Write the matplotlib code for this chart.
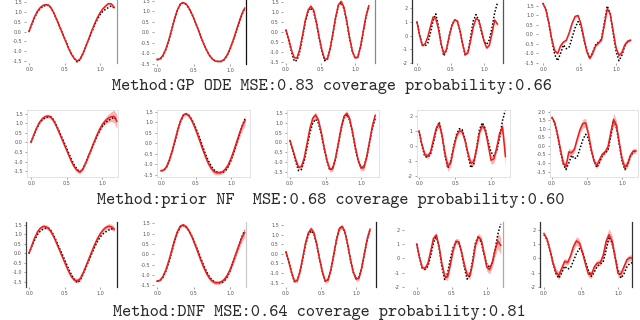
import matplotlib
matplotlib.use("Agg")
import matplotlib.pyplot as plt

# common x grid of the five toy series
x = [0.00, 0.04, 0.08, 0.12, 0.16, 0.20, 0.24, 0.28, 0.32, 0.36, 0.40, 0.44, 0.48, 0.52, 0.56, 0.60,
     0.64, 0.68, 0.72, 0.76, 0.80, 0.84, 0.88, 0.92, 0.96, 1.00, 1.04, 1.08, 1.12, 1.16, 1.20]

# observed data (black dots), one per column
truth_c1 = [0.00, 0.38, 0.72, 1.00, 1.18, 1.28, 1.33, 1.32, 1.15, 0.85, 0.52, 0.18, -0.15, -0.50, -0.85, -1.15,
            -1.38, -1.55, -1.42, -1.10, -0.75, -0.40, -0.05, 0.30, 0.60, 0.85, 1.02, 1.13, 1.22, 1.30, 1.20]
truth_c2 = [-1.30, -1.27, -1.12, -0.82, -0.40, 0.10, 0.62, 1.05, 1.33, 1.40, 1.32, 1.12, 0.85, 0.52, 0.17, -0.20,
            -0.55, -0.85, -1.10, -1.27, -1.36, -1.38, -1.38, -1.30, -1.10, -0.80, -0.42, 0.00, 0.42, 0.82, 1.15]
truth_c3 = [0.10, -0.42, -0.98, -1.45, -1.40, -0.95, -0.25, 0.50, 1.00, 1.20, 1.00, 0.45, -0.30, -0.95, -1.42, -1.35,
            -0.85, -0.10, 0.70, 1.30, 1.45, 1.15, 0.50, -0.30, -0.95, -1.28, -1.25, -0.75, 0.00, 0.75, 1.25]
truth_c4 = [1.00, 0.05, -0.70, -0.75, -0.55, 0.20, 1.10, 1.60, 0.70, -0.60, -1.48, -1.05, -0.05, 0.75, 1.15, 1.10,
            0.40, -0.60, -1.45, -1.20, -0.10, 1.10, 1.55, 1.15, 0.30, -0.40, -0.65, -0.30, 0.60, 1.70, 2.40]
truth_c5 = [1.65, 1.30, 0.60, -0.30, -1.05, -1.38, -1.00, -0.55, -0.75, -0.65, -0.15, 0.35, 0.68, 0.45, -0.25, -0.85,
            -1.26, -0.95, -0.55, -0.40, -0.25, 0.60, 1.50, 1.10, 0.10, -0.85, -1.38, -1.10, -0.60, -0.35, -0.30]

# GP ODE (row 1)
gp_c1 = [0.00, 0.40, 0.76, 1.04, 1.22, 1.33, 1.37, 1.33, 1.15, 0.86, 0.52, 0.17, -0.18, -0.53, -0.88, -1.17,
         -1.38, -1.50, -1.40, -1.12, -0.76, -0.38, 0.00, 0.36, 0.68, 0.95, 1.15, 1.30, 1.42, 1.40, 1.22]
gp_c2 = [-1.28, -1.26, -1.10, -0.80, -0.38, 0.12, 0.64, 1.07, 1.35, 1.42, 1.34, 1.14, 0.86, 0.53, 0.17, -0.20,
         -0.55, -0.85, -1.10, -1.27, -1.36, -1.38, -1.37, -1.28, -1.08, -0.78, -0.40, 0.02, 0.45, 0.85, 1.15]
gp_c3 = [0.10, -0.38, -0.90, -1.28, -1.28, -0.85, -0.15, 0.58, 1.08, 1.28, 1.08, 0.50, -0.25, -0.90, -1.35, -1.32,
         -0.80, -0.05, 0.75, 1.35, 1.52, 1.22, 0.55, -0.25, -0.92, -1.28, -1.25, -0.72, 0.05, 0.80, 1.30]
gp_c4 = [1.02, 0.00, -0.72, -0.60, -0.10, 0.65, 1.38, 1.25, 0.50, -0.60, -1.35, -1.00, -0.05, 0.75, 1.15, 1.10,
         0.40, -0.60, -1.38, -1.25, -0.35, 0.65, 1.25, 1.15, 0.45, -0.40, -0.90, -0.70, 0.20, 1.15, 0.85]
gp_c5 = [1.63, 1.30, 0.60, -0.25, -0.85, -1.00, -0.60, -0.40, -0.30, 0.10, 0.60, 0.95, 1.00, 0.55, -0.20, -0.90,
         -1.26, -1.00, -0.60, -0.45, -0.30, 0.50, 1.35, 1.10, 0.20, -0.70, -1.10, -0.95, -0.55, -0.35, -0.30]
gp_band_c1 = [0.02, 0.03, 0.03, 0.03, 0.03, 0.03, 0.03, 0.03, 0.03, 0.03, 0.03, 0.03, 0.03, 0.03, 0.03, 0.03,
              0.03, 0.03, 0.03, 0.03, 0.03, 0.03, 0.03, 0.03, 0.03, 0.03, 0.04, 0.04, 0.05, 0.05, 0.06]
gp_band_c2 = [0.02, 0.03, 0.03, 0.03, 0.03, 0.03, 0.03, 0.03, 0.03, 0.03, 0.03, 0.03, 0.03, 0.03, 0.03, 0.03,
              0.03, 0.03, 0.03, 0.03, 0.03, 0.03, 0.03, 0.03, 0.03, 0.03, 0.04, 0.04, 0.05, 0.05, 0.06]
gp_band_c3 = [0.02, 0.03, 0.03, 0.04, 0.04, 0.04, 0.04, 0.04, 0.04, 0.04, 0.04, 0.04, 0.04, 0.04, 0.04, 0.04,
              0.04, 0.04, 0.04, 0.04, 0.04, 0.04, 0.04, 0.04, 0.04, 0.04, 0.04, 0.04, 0.05, 0.05, 0.06]
gp_band_c4 = [0.02, 0.04, 0.05, 0.05, 0.05, 0.05, 0.05, 0.05, 0.05, 0.05, 0.05, 0.05, 0.05, 0.05, 0.05, 0.05,
              0.05, 0.05, 0.05, 0.05, 0.05, 0.05, 0.05, 0.05, 0.05, 0.05, 0.06, 0.06, 0.07, 0.08, 0.10]
gp_band_c5 = [0.02, 0.04, 0.05, 0.06, 0.06, 0.06, 0.06, 0.06, 0.06, 0.06, 0.06, 0.06, 0.06, 0.06, 0.06, 0.06,
              0.06, 0.06, 0.06, 0.06, 0.06, 0.06, 0.07, 0.07, 0.07, 0.07, 0.07, 0.07, 0.07, 0.07, 0.07]

# prior NF (row 2)
nf_c1 = [0.00, 0.40, 0.76, 1.05, 1.24, 1.34, 1.37, 1.30, 1.10, 0.80, 0.45, 0.10, -0.25, -0.60, -0.95, -1.25,
         -1.45, -1.55, -1.42, -1.12, -0.75, -0.38, 0.00, 0.36, 0.68, 0.94, 1.12, 1.25, 1.33, 1.35, 1.10]
nf_c2 = [-1.30, -1.27, -1.10, -0.78, -0.35, 0.15, 0.66, 1.08, 1.35, 1.40, 1.30, 1.08, 0.78, 0.43, 0.06, -0.32,
         -0.67, -0.97, -1.20, -1.35, -1.40, -1.40, -1.35, -1.22, -1.02, -0.72, -0.35, 0.05, 0.45, 0.82, 1.08]
nf_c3 = [0.10, -0.38, -0.88, -1.28, -1.25, -0.80, -0.05, 0.72, 1.25, 1.42, 1.15, 0.52, -0.25, -0.92, -1.38, -1.35,
         -0.82, -0.05, 0.75, 1.35, 1.50, 1.22, 0.55, -0.25, -0.92, -1.32, -1.30, -0.75, 0.05, 0.85, 1.40]
nf_c4 = [1.00, 0.10, -0.55, -0.68, -0.40, 0.40, 1.20, 1.48, 0.70, -0.50, -1.38, -1.10, -0.15, 0.65, 1.02, 0.95,
         0.35, -0.50, -1.15, -1.05, -0.20, 0.90, 1.38, 1.05, 0.10, -0.95, -0.85, -0.10, 0.85, 1.25, -0.70]
nf_c5 = [1.67, 1.35, 0.65, -0.20, -1.00, -1.20, -0.35, -0.40, -0.20, 0.40, 0.95, 1.30, 1.35, 0.70, -0.20, -0.90,
         -1.15, -0.80, -0.48, -0.35, -0.05, 0.80, 1.55, 1.20, 0.20, -0.75, -1.25, -1.05, -0.55, -0.30, -0.30]
nf_band_c1 = [0.03, 0.05, 0.07, 0.08, 0.09, 0.10, 0.10, 0.10, 0.10, 0.10, 0.10, 0.10, 0.10, 0.10, 0.10, 0.10,
              0.10, 0.10, 0.10, 0.10, 0.10, 0.10, 0.10, 0.11, 0.12, 0.15, 0.18, 0.22, 0.26, 0.32, 0.38]
nf_band_c2 = [0.03, 0.04, 0.06, 0.08, 0.09, 0.10, 0.10, 0.09, 0.08, 0.08, 0.09, 0.11, 0.13, 0.15, 0.16, 0.16,
              0.15, 0.14, 0.13, 0.12, 0.10, 0.09, 0.09, 0.10, 0.12, 0.14, 0.16, 0.18, 0.20, 0.22, 0.24]
nf_band_c3 = [0.04, 0.08, 0.10, 0.12, 0.12, 0.12, 0.13, 0.14, 0.15, 0.15, 0.14, 0.13, 0.13, 0.13, 0.14, 0.14,
              0.13, 0.13, 0.13, 0.14, 0.15, 0.14, 0.13, 0.13, 0.13, 0.14, 0.14, 0.13, 0.13, 0.14, 0.15]
nf_band_c4 = [0.05, 0.10, 0.15, 0.18, 0.18, 0.18, 0.20, 0.22, 0.22, 0.25, 0.32, 0.27, 0.20, 0.17, 0.17, 0.17,
              0.18, 0.20, 0.25, 0.25, 0.22, 0.20, 0.20, 0.22, 0.25, 0.28, 0.28, 0.25, 0.25, 0.35, 0.65]
nf_band_c5 = [0.05, 0.08, 0.12, 0.15, 0.18, 0.24, 0.22, 0.17, 0.17, 0.18, 0.22, 0.26, 0.26, 0.22, 0.18, 0.17,
              0.20, 0.20, 0.16, 0.16, 0.18, 0.26, 0.36, 0.30, 0.22, 0.20, 0.22, 0.20, 0.16, 0.16, 0.16]

# DNF (row 3)
dnf_c1 = [0.00, 0.42, 0.82, 1.14, 1.33, 1.42, 1.40, 1.30, 1.08, 0.78, 0.43, 0.08, -0.28, -0.63, -0.97, -1.25,
          -1.42, -1.45, -1.35, -1.05, -0.70, -0.32, 0.05, 0.42, 0.75, 1.02, 1.22, 1.36, 1.43, 1.40, 1.28]
dnf_c2 = [-1.30, -1.26, -1.08, -0.76, -0.33, 0.17, 0.68, 1.10, 1.37, 1.42, 1.33, 1.12, 0.83, 0.48, 0.10, -0.28,
          -0.63, -0.93, -1.16, -1.31, -1.37, -1.37, -1.33, -1.22, -1.03, -0.75, -0.38, 0.02, 0.42, 0.78, 1.05]
dnf_c3 = [0.10, -0.42, -0.98, -1.42, -1.40, -0.92, -0.18, 0.58, 1.10, 1.30, 1.08, 0.48, -0.28, -0.95, -1.42, -1.36,
          -0.84, -0.08, 0.72, 1.30, 1.42, 1.15, 0.50, -0.28, -0.95, -1.32, -1.28, -0.75, 0.02, 0.78, 1.28]
dnf_c4 = [1.00, 0.05, -0.65, -0.70, -0.35, 0.50, 1.40, 1.60, 0.80, -0.40, -1.25, -1.30, -0.45, 0.55, 1.20, 1.15,
          0.45, -0.45, -1.15, -1.20, -0.30, 0.95, 1.50, 1.30, 0.40, -0.60, -0.80, -0.30, 0.60, 1.20, 0.90]
dnf_c5 = [1.73, 1.35, 0.60, -0.30, -0.95, -1.20, -0.70, -0.20, -0.30, 0.20, 0.85, 1.22, 1.05, 0.40, -0.40, -1.10,
          -1.15, -0.60, -0.33, -0.30, 0.20, 1.20, 1.65, 1.20, 0.10, -1.05, -1.10, -0.60, -0.10, 0.05, 0.00]
dnf_band_c1 = [0.03, 0.06, 0.08, 0.10, 0.11, 0.12, 0.12, 0.11, 0.10, 0.10, 0.10, 0.10, 0.10, 0.10, 0.10, 0.10,
               0.11, 0.12, 0.12, 0.11, 0.10, 0.10, 0.10, 0.10, 0.10, 0.11, 0.12, 0.13, 0.14, 0.14, 0.14]
dnf_band_c2 = [0.03, 0.04, 0.06, 0.08, 0.09, 0.10, 0.10, 0.09, 0.08, 0.08, 0.09, 0.10, 0.12, 0.13, 0.14, 0.14,
               0.13, 0.12, 0.11, 0.10, 0.09, 0.09, 0.09, 0.10, 0.11, 0.13, 0.15, 0.17, 0.19, 0.21, 0.22]
dnf_band_c3 = [0.04, 0.07, 0.09, 0.10, 0.10, 0.10, 0.11, 0.12, 0.13, 0.13, 0.12, 0.11, 0.11, 0.11, 0.12, 0.12,
               0.11, 0.11, 0.11, 0.12, 0.13, 0.12, 0.11, 0.11, 0.11, 0.12, 0.12, 0.11, 0.11, 0.12, 0.13]
dnf_band_c4 = [0.05, 0.08, 0.12, 0.15, 0.18, 0.20, 0.22, 0.22, 0.20, 0.20, 0.22, 0.25, 0.22, 0.20, 0.20, 0.20,
               0.20, 0.22, 0.25, 0.25, 0.22, 0.22, 0.25, 0.25, 0.25, 0.28, 0.30, 0.32, 0.40, 0.55, 0.60]
dnf_band_c5 = [0.05, 0.10, 0.15, 0.20, 0.25, 0.30, 0.25, 0.20, 0.20, 0.22, 0.28, 0.30, 0.28, 0.25, 0.22, 0.22,
               0.25, 0.22, 0.20, 0.22, 0.28, 0.35, 0.42, 0.38, 0.30, 0.28, 0.25, 0.22, 0.20, 0.20, 0.20]

captions = ["Method:GP ODE MSE:0.83 coverage probability:0.66",
            "Method:prior NF  MSE:0.68 coverage probability:0.60",
            "Method:DNF MSE:0.64 coverage probability:0.81"]

yticks_half = [-1.5, -1.0, -0.5, 0.0, 0.5, 1.0, 1.5]
yticks_int = [-2, -1, 0, 1, 2]
yticks_c5r2 = [-1.5, -1.0, -0.5, 0.0, 0.5, 1.0, 1.5, 2.0]

truths = [truth_c1, truth_c2, truth_c3, truth_c4, truth_c5]
means = [[gp_c1, gp_c2, gp_c3, gp_c4, gp_c5],
         [nf_c1, nf_c2, nf_c3, nf_c4, nf_c5],
         [dnf_c1, dnf_c2, dnf_c3, dnf_c4, dnf_c5]]
bands = [[gp_band_c1, gp_band_c2, gp_band_c3, gp_band_c4, gp_band_c5],
         [nf_band_c1, nf_band_c2, nf_band_c3, nf_band_c4, nf_band_c5],
         [dnf_band_c1, dnf_band_c2, dnf_band_c3, dnf_band_c4, dnf_band_c5]]

W, H = 640, 320
# pixel geometry: left, right, top, bottom, x0 pixel, px per x unit, y0 pixel, px per y unit
geom = [
    [(26, 117, 0, 63, 29, 71, 31.5, 19.7), (154, 246, 0, 64, 157, 73, 32.7, 21.3),
     (283, 375, 0, 63, 286, 69, 32.0, 20.2), (412, 503, 0, 63, 417, 67, 39.3, 15.0),
     (538, 632, 0, 63, 543, 73, 35.0, 19.3)],
    [(27, 118, 110, 177, 31, 71.5, 142.3, 19.2), (157, 250, 110, 177, 161, 70, 143.3, 21.1),
     (287, 379, 110, 177, 290, 71, 142.5, 19.4), (417, 510, 110, 177, 419, 72, 146.0, 15.0),
     (550, 638, 110, 177, 552, 70, 145.9, 17.1)],
    [(26, 117, 222, 287, 29, 71, 253.3, 18.9), (154, 246, 222, 287, 157, 73, 254.3, 20.7),
     (283, 376, 222, 287, 286, 70, 253.8, 19.2), (404, 503, 222, 287, 416.7, 70, 260.0, 15.0),
     (540, 632, 222, 287, 544, 74, 260.0, 15.0)],
]
yticks = [[yticks_half, yticks_half, yticks_half, yticks_int, yticks_half],
          [yticks_half, yticks_half, yticks_half, yticks_int, yticks_c5r2],
          [yticks_half, yticks_half, yticks_half, yticks_int, yticks_int]]
# visible spines per panel: {side: color}
spines = [
    [{"right": "#999999"}, {"right": "#111111"}, {"right": "#888888"},
     {"left": "#333333", "right": "#555555"}, {}],
    [{s: "#dddddd" for s in ("left", "right", "top", "bottom")} for _ in range(5)],
    [{"left": "#444444", "right": "#222222"}, {"right": "#cccccc"}, {"right": "#222222"},
     {"right": "#aaaaaa"}, {"left": "#333333", "right": "#333333"}],
]
caption_pos = [(112, 86), (97, 200), (113, 312)]

fig = plt.figure(figsize=(W / 100, H / 100), dpi=100)

for r in range(3):
    for c in range(5):
        l, rr, t, b, x0, sx, y0, sy = geom[r][c]
        ax = fig.add_axes([l / W, 1 - b / H, (rr - l) / W, (b - t) / H])
        mu = means[r][c]
        bw = bands[r][c]
        lo = [m - w for m, w in zip(mu, bw)]
        hi = [m + w for m, w in zip(mu, bw)]
        ax.fill_between(x, lo, hi, color="#f59c9c", alpha=0.75, lw=0)
        ax.plot(x, truths[c], color="black", lw=1.1, ls=(0, (1, 1.2)))
        ax.plot(x, mu, color="#ee1c1c", lw=1.1)
        ax.set_xlim((l - x0) / sx, (rr - x0) / sx)
        ax.set_ylim((y0 - b) / sy, (y0 - t) / sy)
        ax.set_xticks([0.0, 0.5, 1.0])
        ax.set_xticklabels(["0.0", "0.5", "1.0"])
        ax.set_yticks(yticks[r][c])
        if yticks[r][c] is yticks_int:
            ax.set_yticklabels([str(v) for v in yticks[r][c]])
        else:
            ax.set_yticklabels(["%.1f" % v for v in yticks[r][c]])
        ax.tick_params(labelsize=3.5, length=1.5, width=0.4, pad=1.5,
                       colors="#555555", labelcolor="#555555")
        for side in ("left", "right", "top", "bottom"):
            if side in spines[r][c]:
                ax.spines[side].set_color(spines[r][c][side])
                ax.spines[side].set_linewidth(0.9 if r != 1 else 0.6)
            else:
                ax.spines[side].set_visible(False)

# captions: typewriter serif, monospaced like the original
for (cx, cy), txt in zip(caption_pos, captions):
    fig.text(cx / W, 1 - cy / H, txt, ha="left", va="center",
             family="cmtt10", fontsize=12.6, color="#2a2a2a")

fig.savefig("out.png", dpi=100)
